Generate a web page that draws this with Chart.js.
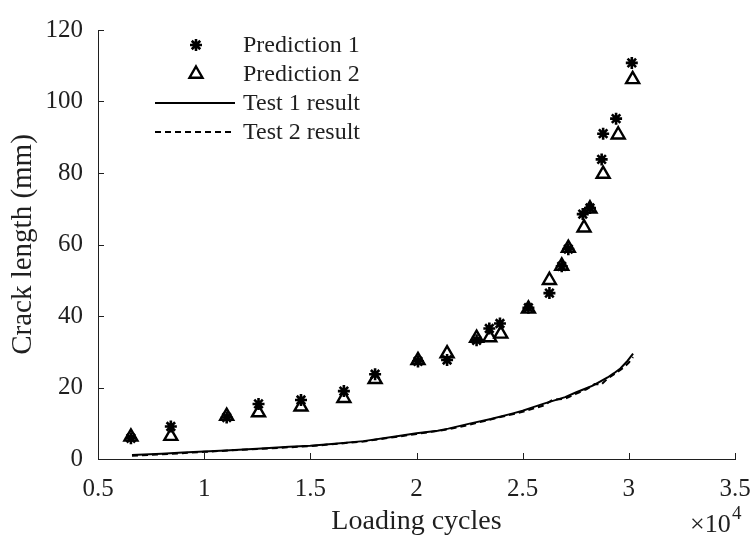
<!DOCTYPE html>
<html>
<head>
<meta charset="utf-8">
<script src="https://cdn.jsdelivr.net/npm/chart.js@4.4.1/dist/chart.umd.min.js"></script>
<style>
  html, body { margin: 0; padding: 0; background: #fff; }
  #wrap { width: 750px; height: 538px; position: relative; }
</style>
</head>
<body>
<div id="wrap"><canvas id="c" width="750" height="538"></canvas></div>
<script>
// Loading cycles are given in units of 10^4 cycles, crack length in mm.
const pred1X = [0.655, 0.843, 1.106, 1.256, 1.456, 1.658, 1.805, 2.007, 2.144, 2.283, 2.343, 2.393, 2.527, 2.626, 2.684, 2.715, 2.783, 2.817, 2.872, 2.879, 2.940, 3.014];
const pred1Y = [5.8, 9.1, 11.6, 15.4, 16.5, 19.0, 23.7, 27.3, 27.7, 33.2, 36.5, 37.9, 42.3, 46.4, 53.9, 58.7, 68.5, 70.2, 83.8, 91.0, 95.2, 110.8];

const pred2X = [0.655, 0.843, 1.106, 1.256, 1.456, 1.658, 1.805, 2.007, 2.144, 2.283, 2.345, 2.397, 2.527, 2.626, 2.684, 2.715, 2.789, 2.817, 2.879, 2.950, 3.018];
const pred2Y = [6.2, 6.4, 12.0, 13.0, 14.6, 17.0, 22.3, 27.6, 29.5, 33.8, 34.0, 35.0, 42.0, 50.0, 54.0, 59.0, 64.7, 70.0, 79.7, 90.7, 106.2];

const test1X = [0.66, 0.80, 0.90, 1.00, 1.10, 1.25, 1.40, 1.50, 1.60, 1.75, 1.90, 2.00, 2.10, 2.15, 2.25, 2.35, 2.45, 2.50, 2.55, 2.60, 2.65, 2.70, 2.75, 2.80, 2.83, 2.86, 2.90, 2.93, 2.96, 2.99, 3.02];
const test1Y = [1.1, 1.5, 1.8, 2.1, 2.4, 2.9, 3.4, 3.7, 4.2, 5.0, 6.3, 7.2, 7.9, 8.5, 9.9, 11.2, 12.7, 13.5, 14.5, 15.5, 16.4, 17.3, 18.6, 19.8, 20.5, 21.5, 22.8, 24.0, 25.3, 27.2, 29.5];

const test2X = [0.66, 0.80, 1.00, 1.25, 1.50, 1.75, 2.00, 2.15, 2.25, 2.40, 2.50, 2.60, 2.64, 2.70, 2.75, 2.80, 2.84, 2.87, 2.90, 2.95, 2.98, 3.00, 3.02];
const test2Y = [0.9, 1.3, 2.0, 2.8, 3.6, 4.9, 7.0, 8.3, 9.6, 11.8, 13.2, 15.0, 16.5, 16.9, 18.2, 19.5, 21.0, 20.8, 22.5, 24.5, 25.8, 27.0, 28.5];

const xTicks = [0.5, 1, 1.5, 2, 2.5, 3, 3.5];
const yTicks = [0, 20, 40, 60, 80, 100, 120];

const seriesNames = ['Prediction 1', 'Prediction 2', 'Test 1 result', 'Test 2 result'];

const INK = '#1f1f1f';
const SERIF = '"Liberation Serif", "Times New Roman", serif';

const toPoints = (xs, ys) => xs.map((x, i) => ({ x: x, y: ys[i] }));

// Inward tick marks on the left and bottom axes, plus the x exponent
const innerTicks = {
  id: 'innerTicks',
  afterDraw(chart) {
    const { ctx, chartArea: a, scales } = chart;
    const len = 6;
    ctx.save();
    ctx.strokeStyle = INK;
    ctx.lineWidth = 1;
    ctx.beginPath();
    xTicks.forEach(v => {
      const px = Math.round(scales.x.getPixelForValue(v)) + 0.5;
      ctx.moveTo(px, a.bottom);
      ctx.lineTo(px, a.bottom - len);
    });
    yTicks.forEach(v => {
      const py = Math.round(scales.y.getPixelForValue(v)) + 0.5;
      ctx.moveTo(a.left, py);
      ctx.lineTo(a.left + len, py);
    });
    ctx.stroke();

    ctx.fillStyle = INK;
    ctx.textBaseline = 'alphabetic';
    ctx.textAlign = 'left';
    ctx.font = '26px ' + SERIF;
    ctx.fillText('\u00d710', 690, 532);
    ctx.font = '19px ' + SERIF;
    ctx.fillText('4', 732, 519);
    ctx.restore();
  }
};

// Borderless legend in the upper-left corner
const plainLegend = {
  id: 'plainLegend',
  afterDraw(chart) {
    const { ctx } = chart;
    const ds = chart.data.datasets;
    const rows = [45, 74, 103, 132];
    const markX = 196, lineX0 = 155, lineX1 = 235, textX = 243;
    ctx.save();
    ctx.font = '24px ' + SERIF;
    ctx.textBaseline = 'middle';
    ctx.textAlign = 'left';
    ds.forEach((d, i) => {
      const y = rows[i];
      if (d.showLine) {
        ctx.save();
        ctx.strokeStyle = d.borderColor;
        ctx.lineWidth = d.borderWidth;
        ctx.setLineDash(d.borderDash || []);
        ctx.beginPath();
        ctx.moveTo(lineX0, y);
        ctx.lineTo(lineX1, y);
        ctx.stroke();
        ctx.restore();
      } else {
        ctx.save();
        ctx.strokeStyle = d.pointBorderColor;
        ctx.fillStyle = d.pointBackgroundColor;
        ctx.lineWidth = d.pointBorderWidth;
        Chart.helpers.drawPoint(ctx, {
          pointStyle: d.pointStyle,
          radius: d.pointRadius,
          rotation: 0,
          borderWidth: d.pointBorderWidth
        }, markX, y);
        ctx.restore();
      }
      ctx.fillStyle = INK;
      ctx.fillText(d.label, textX, y + 1);
    });
    ctx.restore();
  }
};

new Chart(document.getElementById('c'), {
  type: 'scatter',
  data: {
    datasets: [
      {
        label: seriesNames[0],
        data: toPoints(pred1X, pred1Y),
        pointStyle: 'star',
        pointRadius: 6,
        pointBorderWidth: 2.6,
        pointBorderColor: '#000',
        pointBackgroundColor: '#000',
        showLine: false
      },
      {
        label: seriesNames[1],
        data: toPoints(pred2X, pred2Y),
        pointStyle: 'triangle',
        pointRadius: 7.5,
        pointBorderWidth: 2.4,
        pointBorderColor: '#000',
        pointBackgroundColor: 'rgba(255,255,255,0)',
        showLine: false
      },
      {
        label: seriesNames[2],
        data: toPoints(test1X, test1Y),
        showLine: true,
        borderColor: '#000',
        borderWidth: 2,
        pointRadius: 0,
        tension: 0
      },
      {
        label: seriesNames[3],
        data: toPoints(test2X, test2Y),
        showLine: true,
        borderColor: '#000',
        borderWidth: 2,
        borderDash: [6, 4],
        pointRadius: 0,
        tension: 0
      }
    ]
  },
  options: {
    responsive: false,
    animation: false,
    layout: { padding: { top: 21, right: 15, left: 0, bottom: 0 } },
    plugins: {
      legend: { display: false },
      tooltip: { enabled: false }
    },
    scales: {
      x: {
        type: 'linear',
        min: 0.5,
        max: 3.5,
        afterBuildTicks(scale) { scale.ticks = xTicks.map(v => ({ value: v })); },
        afterFit(scale) { scale.height = 79; scale.paddingLeft = 0; scale.paddingRight = 0; },
        grid: { display: false, drawTicks: false },
        border: { display: true, color: INK, width: 1 },
        ticks: {
          padding: 15,
          color: INK,
          font: { family: SERIF, size: 25 },
          maxRotation: 0,
          autoSkip: false,
          callback: v => String(v)
        },
        title: {
          display: true,
          text: 'Loading cycles',
          color: INK,
          font: { family: SERIF, size: 28 },
          padding: { top: 0, bottom: 0 }
        }
      },
      y: {
        type: 'linear',
        min: 0,
        max: 120,
        afterBuildTicks(scale) { scale.ticks = yTicks.map(v => ({ value: v })); },
        afterFit(scale) { scale.width = 98; },
        grid: { display: false, drawTicks: false },
        border: { display: true, color: INK, width: 1 },
        ticks: {
          padding: 15,
          color: INK,
          font: { family: SERIF, size: 25 },
          autoSkip: false,
          callback: v => String(v)
        },
        title: {
          display: true,
          text: 'Crack length (mm)',
          color: INK,
          font: { family: SERIF, size: 29 },
          padding: { top: 6, bottom: 0 }
        }
      }
    }
  },
  plugins: [innerTicks, plainLegend]
});
</script>
</body>
</html>
